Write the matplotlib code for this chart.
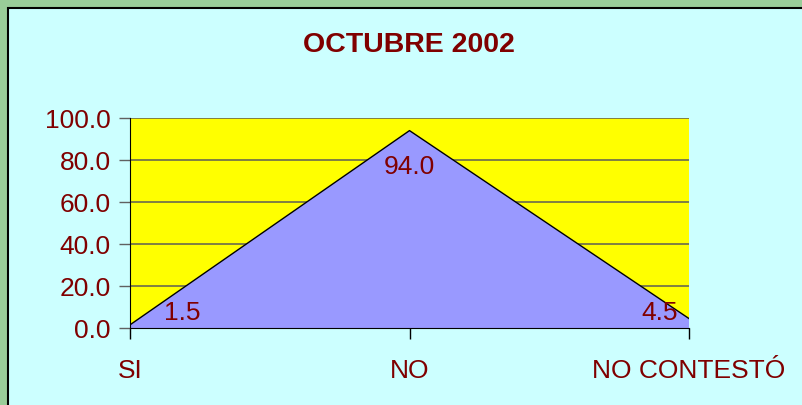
import matplotlib
matplotlib.use("Agg")
import matplotlib.pyplot as plt
from matplotlib.patches import Rectangle

categories = ["SI", "NO", "NO CONTESTÓ"]
values = [1.5, 94.0, 4.5]
yticks = [0, 20, 40, 60, 80, 100]

dark_red = "#800000"
plt.rcParams["font.family"] = ["Liberation Sans", "DejaVu Sans"]

fig = plt.figure(figsize=(8.02, 4.05), dpi=100)
fig.patch.set_facecolor("#99CC99")
# cyan chart area with black top/left edge (bottom/right edges pushed off the canvas)
fig.patches.append(Rectangle((8 / 802, -0.05), 1.1, 1.05 - 8 / 405, transform=fig.transFigure,
                             facecolor="#CCFFFF", edgecolor="black", lw=1.5, zorder=-5))

ax = fig.add_axes([130 / 802, 77 / 405, 559 / 802, 210 / 405])
ax.set_facecolor("#FFFF00")
x = list(range(len(categories)))
ax.fill_between(x, values, 0, facecolor="#9999FF", edgecolor="none", zorder=2)
ax.plot(x, values, color="black", lw=1, zorder=3)

ax.set_xlim(0, 2)
ax.set_ylim(0, 100)
ax.set_yticks(yticks)
ax.set_yticklabels([f"{v:.1f}" for v in yticks])
ax.set_xticks(x)
ax.set_xticklabels(categories)
for y in yticks[1:]:
    ax.axhline(y, color="#75754a", lw=1.3, zorder=1)

ax.tick_params(axis="both", colors=dark_red, labelsize=19, length=8, width=1)
ax.tick_params(axis="y", color="#606060", pad=6)
ax.tick_params(axis="x", color="black", pad=14)

for side in ["top", "right"]:
    ax.spines[side].set_visible(False)
ax.spines["left"].set_color("black")
ax.spines["bottom"].set_color("black")

offsets = [(0.12, 1.5, "left"), (0, 71, "center"), (-0.04, 1.5, "right")]
for xi, v, (dx, yy, ha) in zip(x, values, offsets):
    ax.text(xi + dx, yy, f"{v:.1f}", color=dark_red, fontsize=19, ha=ha, va="bottom", zorder=4)

fig.text(409 / 802, 1 - 45 / 405, "OCTUBRE 2002", color=dark_red, fontsize=20.5,
         fontweight="bold", ha="center", va="center")

fig.savefig("out.png", dpi=100, facecolor=fig.get_facecolor())
